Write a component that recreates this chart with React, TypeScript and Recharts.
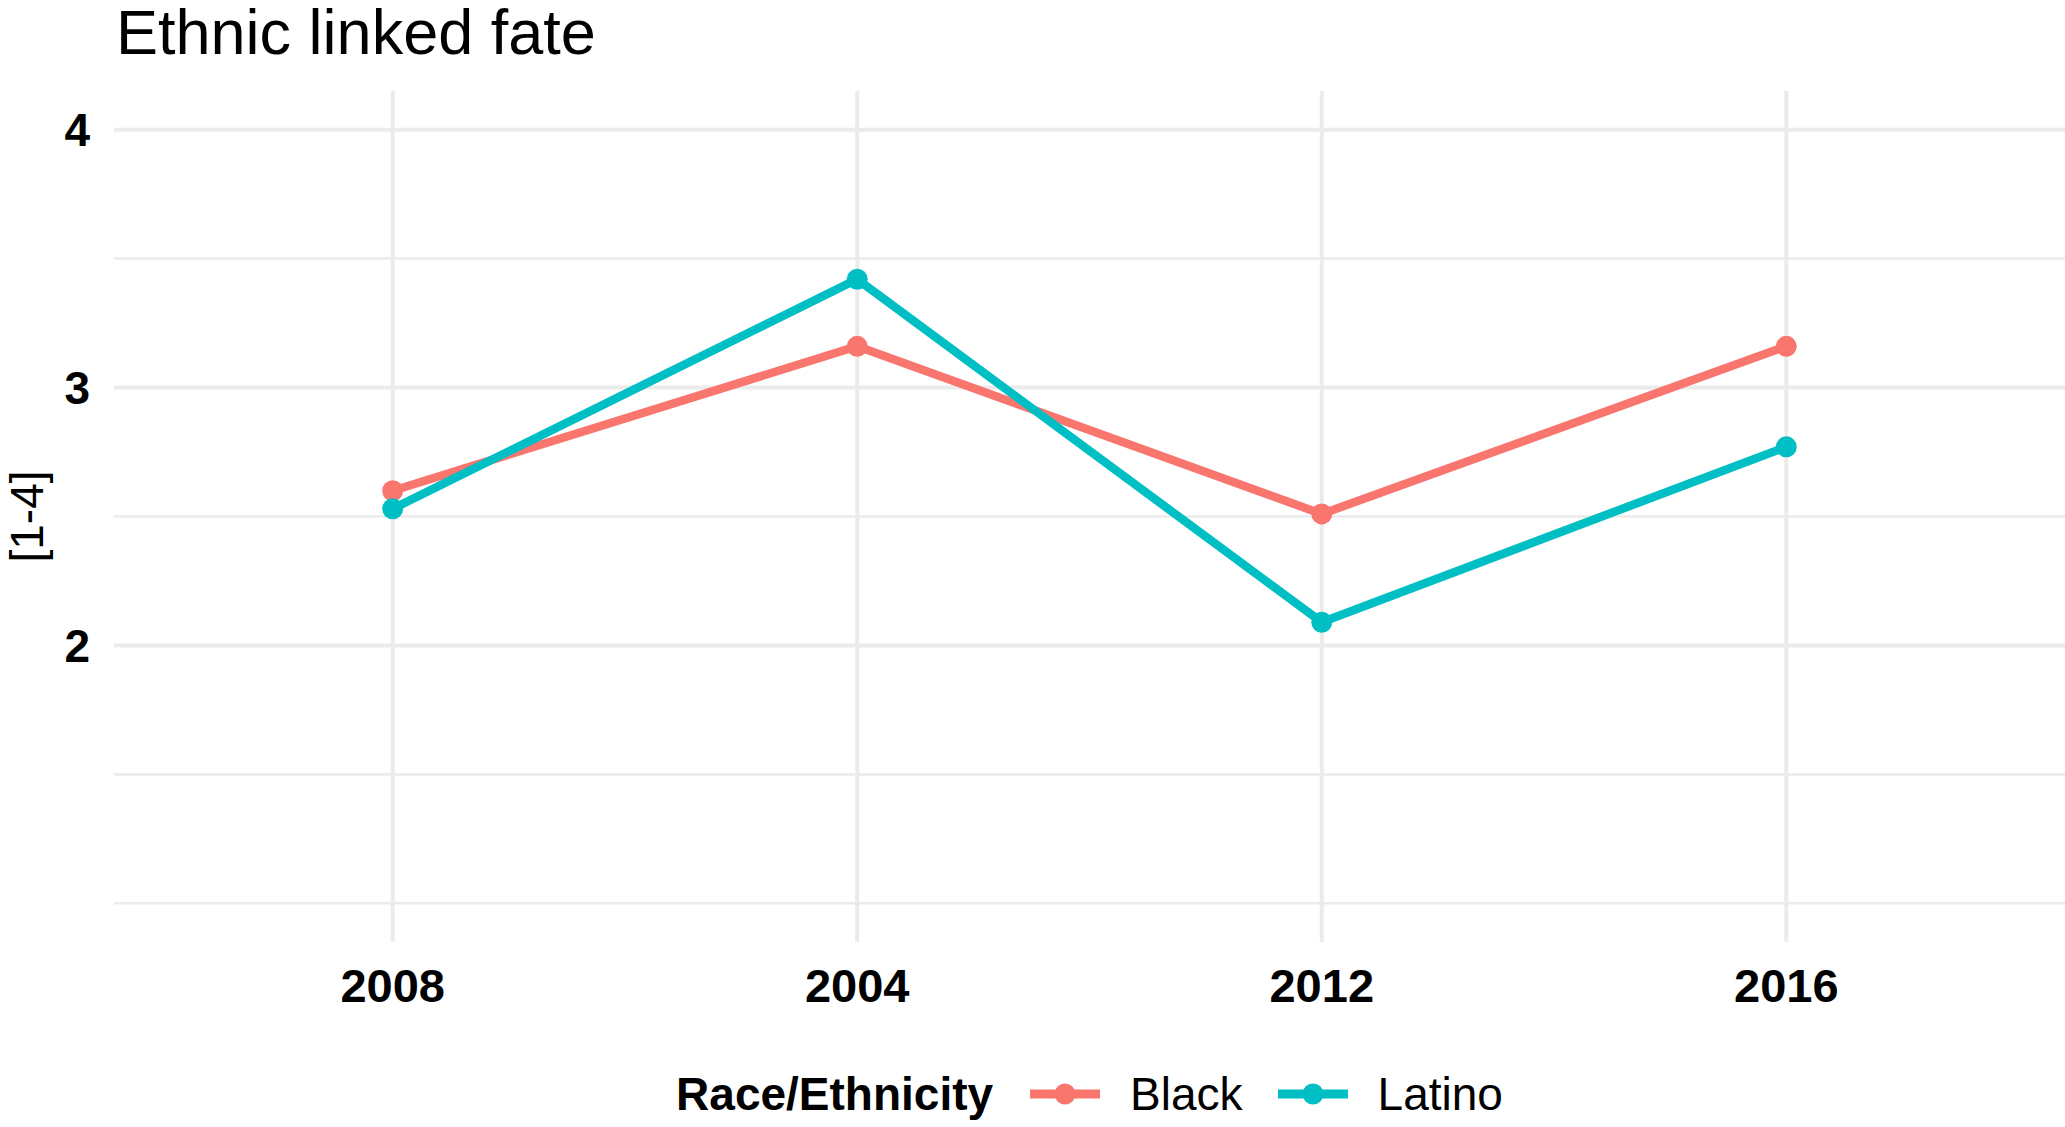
import React from "react"
import {
  Label,
  Line,
  LineChart,
  ReferenceLine,
  XAxis,
  YAxis,
} from "recharts"

const years = ["2008", "2004", "2012", "2016"]
const blackValues = [2.6, 3.16, 2.51, 3.16]
const latinoValues = [2.53, 3.42, 2.09, 2.77]
const yTicks = [2, 3, 4]
const yMinorTicks = [1, 1.5, 2.5, 3.5]

const series = [
  { key: "Black", color: "#F8766D" },
  { key: "Latino", color: "#00BFC4" },
]

const data = years.map((year, i) => ({
  year,
  Black: blackValues[i],
  Latino: latinoValues[i],
}))

const FONT = "'Liberation Sans', Arial, Helvetica, sans-serif"
const W = 2065
const H = 1127
const GRID = "#EBEBEB"

function XTick(props: any) {
  const { x, y, payload } = props
  return (
    <text
      x={x}
      y={y + 60}
      textAnchor="middle"
      fontFamily={FONT}
      fontWeight="bold"
      fontSize={47}
      fill="#000"
    >
      {payload.value}
    </text>
  )
}

function YTick(props: any) {
  const { x, y, payload } = props
  return (
    <text
      x={x - 24}
      y={y + 16.5}
      textAnchor="end"
      fontFamily={FONT}
      fontWeight="bold"
      fontSize={46}
      fill="#000"
    >
      {payload.value}
    </text>
  )
}

function YTitle(props: any) {
  const { viewBox } = props
  const cy = viewBox.y + viewBox.height / 2
  const cx = 43
  return (
    <text
      x={cx}
      y={cy}
      transform={`rotate(-90, ${cx}, ${cy})`}
      textAnchor="middle"
      fontFamily={FONT}
      fontSize={46}
      fill="#000"
    >
      [1-4]
    </text>
  )
}

function LegendKey({ color }: { color: string }) {
  return (
    <svg width={70} height={24} style={{ display: "block" }}>
      <line x1={0} y1={12} x2={70} y2={12} stroke={color} strokeWidth={9} />
      <circle cx={35} cy={12} r={10.5} fill={color} />
    </svg>
  )
}

export default function App() {
  return (
    <div
      style={{
        position: "absolute",
        left: 0,
        top: 0,
        width: W,
        height: H,
        background: "#fff",
        fontFamily: FONT,
      }}
    >
      <div
        style={{
          position: "absolute",
          left: 116,
          top: 1,
          fontSize: 63,
          lineHeight: 1,
          color: "#000",
        }}
      >
        Ethnic linked fate
      </div>
      <LineChart
        width={W}
        height={H}
        data={data}
        margin={{ top: 91, right: 0, bottom: 125, left: 0 }}
      >
        {/* panel grid: thin minor rules, then major rules on the breaks */}
        {yMinorTicks.map((v) => (
          <ReferenceLine key={`minor-${v}`} y={v} stroke={GRID} strokeWidth={2.5} />
        ))}
        {yTicks.map((v) => (
          <ReferenceLine key={`major-${v}`} y={v} stroke={GRID} strokeWidth={4} />
        ))}
        {years.map((yr) => (
          <ReferenceLine key={`x-${yr}`} x={yr} stroke={GRID} strokeWidth={4} />
        ))}
        <XAxis
          dataKey="year"
          type="category"
          padding={{ left: 278.7, right: 278.7 }}
          axisLine={false}
          tickLine={false}
          tickSize={0}
          tickMargin={0}
          height={60}
          tick={<XTick />}
          interval={0}
        />
        <YAxis
          type="number"
          domain={[0.85, 4.15]}
          ticks={yTicks}
          width={114}
          axisLine={false}
          tickLine={false}
          tickSize={0}
          tickMargin={0}
          tick={<YTick />}
        >
          <Label content={<YTitle />} />
        </YAxis>
        {series.map((s) => (
          <Line
            key={s.key}
            dataKey={s.key}
            stroke={s.color}
            strokeWidth={8.5}
            dot={{ r: 10.5, fill: s.color, stroke: "none" }}
            activeDot={false}
            isAnimationActive={false}
          />
        ))}
      </LineChart>
      <div
        style={{
          position: "absolute",
          left: 114,
          width: W - 114,
          top: 1064,
          height: 60,
          display: "flex",
          alignItems: "center",
          justifyContent: "center",
          fontSize: 46,
          lineHeight: 1,
          color: "#000",
        }}
      >
        <span style={{ fontWeight: "bold", marginRight: 37 }}>Race/Ethnicity</span>
        {series.map((s, i) => (
          <React.Fragment key={s.key}>
            <LegendKey color={s.color} />
            <span style={{ marginLeft: 30, marginRight: i < series.length - 1 ? 35 : 0 }}>
              {s.key}
            </span>
          </React.Fragment>
        ))}
      </div>
    </div>
  )
}
